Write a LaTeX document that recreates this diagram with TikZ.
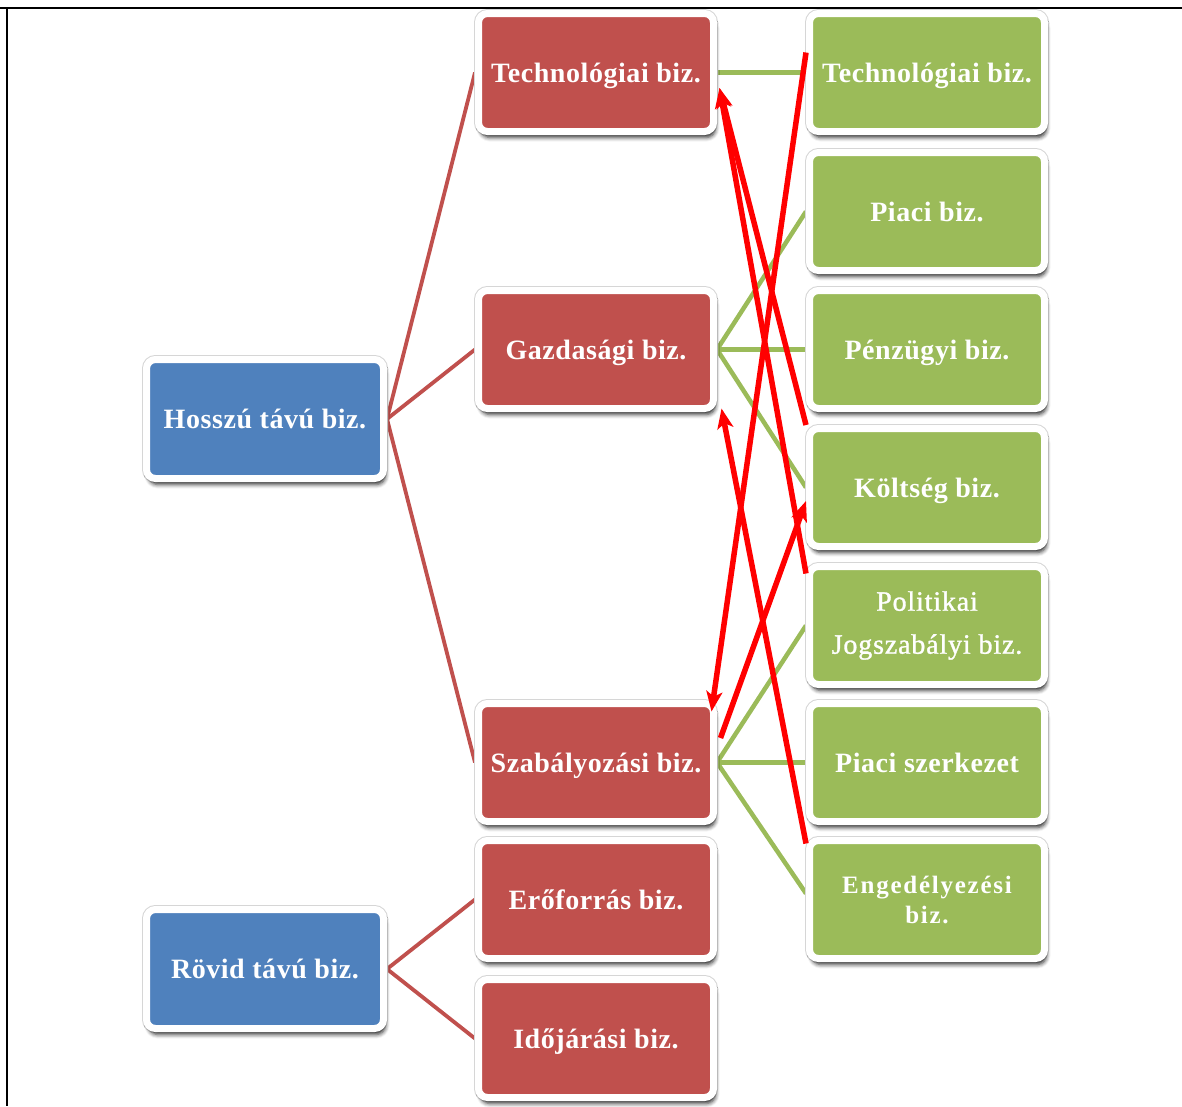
\documentclass[tikz,border=0pt]{standalone}
\usepackage{fontspec}
\setmainfont{Liberation Serif}
\usetikzlibrary{arrows.meta,shadows.blur,backgrounds}
\definecolor{boxblue}{HTML}{4F81BD}
\definecolor{boxred}{HTML}{C0504D}
\definecolor{boxgreen}{HTML}{9BBB59}
\definecolor{treered}{HTML}{C0504D}
\definecolor{treegreen}{HTML}{9BBB59}
\tikzset{
  boxbase/.style={rounded corners=9pt, draw=white, line width=7pt,
    minimum width=235pt, minimum height=118pt, inner sep=0pt,
    text=white, align=center,
    font=\fontsize{28}{32}\selectfont\addfontfeature{LetterSpace=2}\bfseries,
    preaction={draw=black!16, line width=9pt},
    blur shadow={shadow xshift=2pt, shadow yshift=-6pt, shadow blur steps=5, shadow blur radius=4pt, shadow opacity=80}},
  bizbox/.style={boxbase, text height=24pt, text depth=5pt},
  bluebox/.style={bizbox, fill=boxblue, minimum width=237pt, minimum height=119pt},
  redbox/.style={bizbox, fill=boxred},
  greenbox/.style={bizbox, fill=boxgreen},
  greentwo/.style={boxbase, fill=boxgreen},
  redtree/.style={draw=treered, line width=3.8pt},
  greentree/.style={draw=treegreen, line width=4.5pt},
  hint/.style={draw=red, line width=5.5pt, -{Stealth[length=20pt,width=16pt,inset=5pt]}},
  frameline/.style={draw=black, line width=2.8pt}
}
\begin{document}
\begin{tikzpicture}[x=1pt,y=-1pt]
\useasboundingbox (0,0) rectangle (1182,1106);

% page frame
\draw[frameline] (7,8) -- (7,1106);
\draw[frameline] (0,8) -- (133,8);
\draw[frameline] (1057,8) -- (1182,8);
\draw[black, line width=2pt] (133,8) -- (1057,8);

% long and short term
\node[bluebox] (hosszu) at (265,419) {Hosszú távú biz.};
\node[bluebox] (rovid) at (265,969) {Rövid távú biz.};

% middle column
\node[redbox] (techr) at (596,72.5) {Technológiai biz.};
\node[redbox] (gazd) at (596,349.5) {Gazdasági biz.};
\node[redbox] (szab) at (596,762.5) {Szabályozási biz.};
\node[redbox] (ero) at (596,899.5) {Erőforrás biz.};
\node[redbox] (ido) at (596,1038.5) {Időjárási biz.};

% right column
\node[greenbox] (techg) at (927,72.5) {Technológiai biz.};
\node[greenbox] (piaci) at (927,211.5) {Piaci biz.};
\node[greenbox] (penz) at (927,349.5) {Pénzügyi biz.};
\node[greenbox] (koltseg) at (927,487.5) {Költség biz.};
\node[greentwo, font=\fontsize{28}{43}\selectfont\addfontfeature{LetterSpace=3,FakeBold=1.2}] (pol) at (927,625.5) {\raisebox{-3pt}{Politikai}\\\raisebox{-3pt}{Jogszabályi biz.}};
\node[greenbox] (szerk) at (927,762.5) {Piaci szerkezet};
\node[greentwo, font=\fontsize{25}{30}\selectfont\addfontfeature{LetterSpace=7}\bfseries] (eng) at (927,899.5) {Engedélyezési\\biz.};

% tree connectors
\begin{pgfonlayer}{background}
  \draw[redtree] (hosszu.east) -- (techr.west);
  \draw[redtree] (hosszu.east) -- (gazd.west);
  \draw[redtree] (hosszu.east) -- (szab.west);
  \draw[redtree] (rovid.east) -- (ero.west);
  \draw[redtree] (rovid.east) -- (ido.west);
  \draw[greentree] (techr.east) -- (techg.west);
  \draw[greentree] (gazd.east) -- (piaci.west);
  \draw[greentree] (gazd.east) -- (penz.west);
  \draw[greentree] (gazd.east) -- (koltseg.west);
  \draw[greentree] (szab.east) -- (pol.west);
  \draw[greentree] (szab.east) -- (szerk.west);
  \draw[greentree] (szab.east) -- ([yshift=6pt]eng.west);
\end{pgfonlayer}

% cross influences
\draw[hint] ([yshift=20pt]techg.west) -- ([xshift=-5.5pt,yshift=-11.5pt]szab.north east);
\draw[hint] (koltseg.north west) -- ([xshift=2.5pt,yshift=-15.5pt]techr.east);
\draw[hint] ([yshift=-10.5pt]pol.north west) -- ([xshift=2.5pt,yshift=-15.5pt]techr.east);
\draw[hint] ([yshift=-6.5pt]eng.north west) -- ([xshift=4.5pt,yshift=3.5pt]gazd.south east);
\draw[hint] ([xshift=3.5pt,yshift=24.5pt]szab.east) -- ([yshift=-13.5pt]koltseg.west);
\end{tikzpicture}
\end{document}
